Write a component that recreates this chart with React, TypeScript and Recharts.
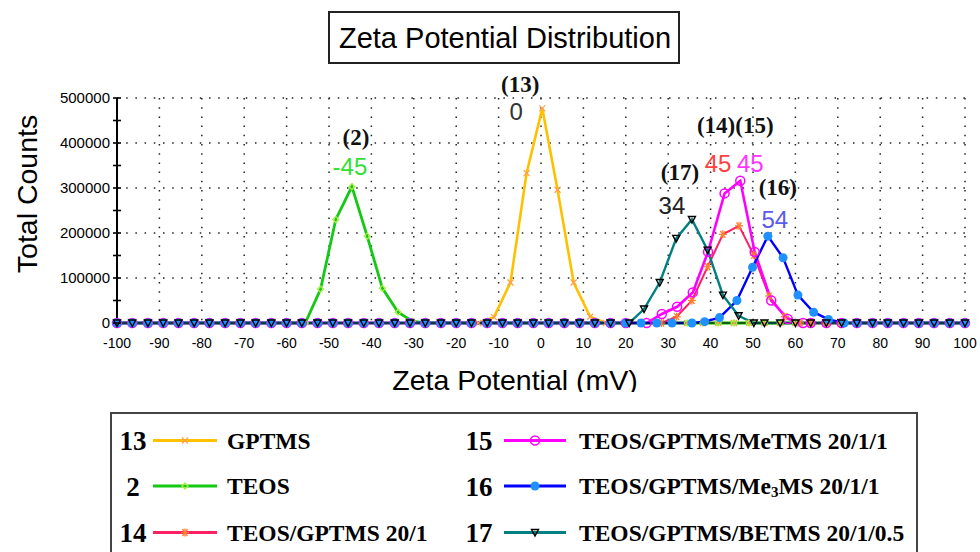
import React from 'react';
import { LineChart, Line, XAxis, YAxis, CartesianGrid, ReferenceDot } from 'recharts';

// ---------- data ----------
const baselineMv = [
  -100, -96.4, -92.7, -89.1, -85.5, -81.8, -78.2, -74.5, -70.9, -67.3, -63.6, -60, -56.4, -52.7,
  -49.1, -45.5, -41.8, -38.2, -34.5, -30.9, -27.3, -23.6, -20, -16.4, -12.7, -9.1, -5.5, -1.8,
  1.8, 5.5, 9.1, 12.7, 16.4, 20, 23.6, 27.3, 30.9, 34.5, 38.2, 41.8, 45.5, 49.1, 52.7, 56.4,
  60, 63.6, 67.3, 70.9, 74.5, 78.2, 81.8, 85.5, 89.1, 92.7, 96.4, 100,
];

const gptmsMv = [-14.8, -11.1, -7.2, -3.4, 0.3, 3.9, 7.7, 11.6, 15.3];
const gptmsCounts = [0, 13000, 90000, 333000, 477000, 296000, 90000, 14000, 0];

const teosMv = [-55.6, -52.0, -48.4, -44.6, -41.0, -37.4, -33.7, -30.4];
const teosCounts = [0, 75000, 230000, 303000, 193000, 77000, 24000, 4000];

const teosGptmsMv = [28.4, 32.0, 35.6, 39.3, 42.9, 46.7, 50.2, 53.8, 57.5, 61.1];
const teosGptmsCounts = [0, 14000, 50000, 125000, 197000, 216000, 151000, 60000, 14000, 0];

const metmsMv = [24.9, 28.5, 32.1, 35.8, 39.4, 43.3, 47.0, 50.4, 54.3, 58.2, 61.8];
const metmsCounts = [0, 20000, 36000, 68000, 158000, 288000, 316000, 158000, 50000, 9000, 0];

const me3msMv = [35.6, 38.6, 42.1, 46.2, 49.9, 53.5, 57.1, 60.6, 64.3, 67.8, 71.5];
const me3msCounts = [0, 3000, 12000, 50000, 124000, 193000, 145000, 62000, 24000, 8000, 0];

const betmsMv = [20.8, 24.3, 28.0, 31.9, 35.6, 39.3, 42.9, 46.6, 50.2];
const betmsCounts = [0, 31000, 90000, 188000, 230000, 162000, 62000, 16000, 0];

const sampleNumbers = ['13', '2', '14', '15', '16', '17'];
const sampleNames = [
  'GPTMS',
  'TEOS',
  'TEOS/GPTMS 20/1',
  'TEOS/GPTMS/MeTMS 20/1/1',
  'TEOS/GPTMS/Me3MS 20/1/1',
  'TEOS/GPTMS/BETMS 20/1/0.5',
];
const peakTags = ['(13)', '(2)', '', '(14)(15)', '(16)', '(17)'];
const peakValues = ['0', '-45', '45', '45', '54', '34'];

const xTicks = [-100, -90, -80, -70, -60, -50, -40, -30, -20, -10, 0, 10, 20, 30, 40, 50, 60, 70, 80, 90, 100];
const yTicks = [0, 50000, 100000, 150000, 200000, 250000, 300000, 350000, 400000, 450000, 500000];
const yGrid = [100000, 200000, 300000, 400000, 500000];
const xGrid = [-90, -80, -70, -60, -50, -40, -30, -20, -10, 0, 10, 20, 30, 40, 50, 60, 70, 80, 90, 100];

// ---------- build ----------
type Pt = { mv: number; counts: number };
function buildSeries(mv: number[], counts: number[]): Pt[] {
  const lo = mv[0];
  const hi = mv[mv.length - 1];
  const base = baselineMv.filter((v) => v < lo - 1.5 || v > hi + 1.5).map((v) => ({ mv: v, counts: 0 }));
  const peak = mv.map((v, i) => ({ mv: v, counts: counts[i] }));
  return [...base, ...peak].sort((a, b) => a.mv - b.mv);
}

const seriesData = [
  buildSeries(gptmsMv, gptmsCounts),
  buildSeries(teosMv, teosCounts),
  buildSeries(teosGptmsMv, teosGptmsCounts),
  buildSeries(metmsMv, metmsCounts),
  buildSeries(me3msMv, me3msCounts),
  buildSeries(betmsMv, betmsCounts),
];

type MarkerKind = 'x' | 'diamond' | 'star' | 'ring' | 'dot' | 'tri';
const styles: { color: string; width: number; marker: MarkerKind; markerColor: string }[] = [
  { color: '#ffc000', width: 2.6, marker: 'x', markerColor: '#ff9f50' },
  { color: '#14c814', width: 2.8, marker: 'diamond', markerColor: '#a6f040' },
  { color: '#ff1f63', width: 2.0, marker: 'star', markerColor: '#ff7f30' },
  { color: '#ff00ff', width: 2.6, marker: 'ring', markerColor: '#ff00ff' },
  { color: '#0000ff', width: 2.4, marker: 'dot', markerColor: '#1e90ff' },
  { color: '#008080', width: 2.4, marker: 'tri', markerColor: '#000000' },
];

// annotation offsets (px) relative to each peak point
const tagStyle = [
  { tag: [-22, -16], val: [-26, 12], valColor: '#333333' },
  { tag: [4, -42], val: [-2, -12], valColor: '#33e033' },
  { tag: [0, 0], val: [-21, -54], valColor: '#ff4040' },
  { tag: [-5, -48], val: [10, -9], valColor: '#ff33ff' },
  { tag: [10, -41], val: [7, -8], valColor: '#5a5aee' },
  { tag: [-12, -40], val: [-20, -6], valColor: '#222222' },
];

const SANS = '"Liberation Sans", Arial, sans-serif';
const SERIF = '"Liberation Serif", "Times New Roman", serif';

function Marker({ kind, cx, cy, color }: { kind: MarkerKind; cx: number; cy: number; color: string }) {
  if (cx == null || cy == null || isNaN(cx) || isNaN(cy)) return null;
  switch (kind) {
    case 'x':
      return (
        <g stroke={color} strokeWidth={1.3}>
          <line x1={cx - 3} y1={cy - 3} x2={cx + 3} y2={cy + 3} />
          <line x1={cx - 3} y1={cy + 3} x2={cx + 3} y2={cy - 3} />
        </g>
      );
    case 'diamond':
      return (
        <path d={`M${cx},${cy - 3}L${cx + 3},${cy}L${cx},${cy + 3}L${cx - 3},${cy}Z`} fill="none" stroke={color} strokeWidth={1.3} />
      );
    case 'star':
      return (
        <g stroke={color} strokeWidth={1.3}>
          <line x1={cx - 4} y1={cy} x2={cx + 4} y2={cy} />
          <line x1={cx - 2.5} y1={cy - 3.5} x2={cx + 2.5} y2={cy + 3.5} />
          <line x1={cx - 2.5} y1={cy + 3.5} x2={cx + 2.5} y2={cy - 3.5} />
          <line x1={cx} y1={cy - 4} x2={cx} y2={cy + 4} />
        </g>
      );
    case 'ring':
      return <circle cx={cx} cy={cy} r={4.5} fill="none" stroke={color} strokeWidth={1.5} />;
    case 'dot':
      return <circle cx={cx} cy={cy} r={4.5} fill={color} stroke="none" />;
    case 'tri':
      return (
        <path d={`M${cx - 3.5},${cy - 3}L${cx + 3.5},${cy - 3}L${cx},${cy + 3.5}Z`} fill="none" stroke={color} strokeWidth={1.4} />
      );
  }
  return null;
}

const YTick = (props: any) => {
  const { x, y, payload } = props;
  const ax = x + 8;
  const major = payload.value % 100000 === 0;
  return (
    <g>
      <line x1={ax - 4} x2={ax + 4} y1={y} y2={y} stroke="#000" strokeWidth={1.6} />
      {major && (
        <text x={ax - 7} y={y} dy={5} textAnchor="end" fontSize={15} fontFamily={SANS} fill="#000">
          {payload.value}
        </text>
      )}
    </g>
  );
};

const XTick = (props: any) => {
  const { x, y, payload } = props;
  return (
    <text x={x} y={y} dy={11} textAnchor="middle" fontSize={14} fontFamily={SANS} fill="#000">
      {payload.value}
    </text>
  );
};

function peakOf(data: Pt[]): Pt {
  return data.reduce((m, p) => (p.counts > m.counts ? p : m), data[0]);
}

function LegendEntry({ i, col, row }: { i: number; col: number; row: number }) {
  const numX = col === 0 ? 133 : 479;
  const lineX1 = col === 0 ? 153 : 504;
  const lineX2 = col === 0 ? 217 : 566;
  const labelX = col === 0 ? 227 : 579;
  const rowY = [440.5, 486, 532.5][row];
  const st = styles[i];
  const name = sampleNames[i];
  const m = name.match(/^(.*Me)(3)(MS.*)$/);
  return (
    <g>
      <text x={numX} y={rowY + 9.5} textAnchor="middle" fontFamily={SERIF} fontWeight="bold" fontSize={27} fill="#000">
        {sampleNumbers[i]}
      </text>
      <line x1={lineX1} x2={lineX2} y1={rowY} y2={rowY} stroke={st.color} strokeWidth={3} />
      <Marker kind={st.marker} cx={(lineX1 + lineX2) / 2} cy={rowY} color={st.markerColor} />
      <text x={labelX} y={rowY + 8} fontFamily={SERIF} fontWeight="bold" fontSize={23.5} fill="#000">
        {m ? (
          <>
            {m[1]}
            <tspan fontSize={15} dy={3}>
              {m[2]}
            </tspan>
            <tspan dy={-3}>{m[3]}</tspan>
          </>
        ) : (
          name
        )}
      </text>
    </g>
  );
}

export default function App() {
  return (
    <div style={{ position: 'absolute', left: 0, top: 0, width: 980, height: 552, background: '#fff' }}>
      <LineChart width={980} height={552} margin={{ top: 98, right: 15, bottom: 199, left: 47 }}>
        <CartesianGrid
          stroke="#222"
          strokeWidth={1.5}
          strokeDasharray="1.5 7.7"
          horizontalValues={yGrid}
          verticalValues={xGrid}
        />
        <XAxis
          type="number"
          dataKey="mv"
          domain={[-100, 100]}
          ticks={xTicks}
          interval={0}
          height={30}
          tickLine={false}
          tickSize={8}
          tickMargin={6}
          axisLine={{ stroke: '#000', strokeWidth: 1 }}
          tick={<XTick />}
          allowDuplicatedCategory={false}
        />
        <YAxis
          type="number"
          domain={[0, 500000]}
          ticks={yTicks}
          interval={0}
          width={70}
          tickLine={false}
          tickSize={4}
          tickMargin={4}
          axisLine={{ stroke: '#000', strokeWidth: 2 }}
          tick={<YTick />}
        />
        {seriesData.map((data, i) => (
          <Line
            key={sampleNumbers[i]}
            data={data}
            dataKey="counts"
            name={sampleNames[i]}
            type="linear"
            stroke={styles[i].color}
            strokeWidth={styles[i].width}
            isAnimationActive={false}
            dot={(p: any) => (
              <Marker key={`m${i}-${p.index}`} kind={styles[i].marker} cx={p.cx} cy={p.cy} color={styles[i].markerColor} />
            )}
            activeDot={false}
          />
        ))}
        {seriesData.map((data, i) => {
          const pk = peakOf(data);
          const ts = tagStyle[i];
          return (
            <ReferenceDot
              key={`a${i}`}
              x={pk.mv}
              y={pk.counts}
              r={1}
              ifOverflow="visible"
              shape={(p: any) => (
                <g>
                  {peakTags[i] && (
                    <text
                      x={p.cx + ts.tag[0]}
                      y={p.cy + ts.tag[1]}
                      textAnchor="middle"
                      fontFamily={SERIF}
                      fontWeight="bold"
                      fontSize={23}
                      fill="#111"
                    >
                      {peakTags[i]}
                    </text>
                  )}
                  <text
                    x={p.cx + ts.val[0]}
                    y={p.cy + ts.val[1]}
                    textAnchor="middle"
                    fontFamily={SANS}
                    fontSize={24}
                    fill={ts.valColor}
                  >
                    {peakValues[i]}
                  </text>
                </g>
              )}
            />
          );
        })}
      </LineChart>
      <svg
        width={980}
        height={552}
        style={{ position: 'absolute', left: 0, top: 0, pointerEvents: 'none' }}
      >
        <defs>
          <clipPath id="xlabclip">
            <rect x={0} y={0} width={980} height={392} />
          </clipPath>
        </defs>
        <rect x={329} y={12} width={350} height={51} fill="none" stroke="#222" strokeWidth={2} />
        <text x={505} y={48} textAnchor="middle" fontFamily={SANS} fontSize={29} fill="#000">
          Zeta Potential Distribution
        </text>
        <text
          x={0}
          y={0}
          transform="translate(37,194) rotate(-90)"
          textAnchor="middle"
          fontFamily={SANS}
          fontSize={28.5}
          fill="#000"
        >
          Total Counts
        </text>
        <g clipPath="url(#xlabclip)">
          <text x={515} y={390} textAnchor="middle" fontFamily={SANS} fontSize={28.5} fill="#000">
            Zeta Potential (mV)
          </text>
        </g>
        <rect x={111} y={413} width={806} height={160} fill="#fff" stroke="#444" strokeWidth={2} />
        <LegendEntry i={0} col={0} row={0} />
        <LegendEntry i={1} col={0} row={1} />
        <LegendEntry i={2} col={0} row={2} />
        <LegendEntry i={3} col={1} row={0} />
        <LegendEntry i={4} col={1} row={1} />
        <LegendEntry i={5} col={1} row={2} />
      </svg>
    </div>
  );
}
